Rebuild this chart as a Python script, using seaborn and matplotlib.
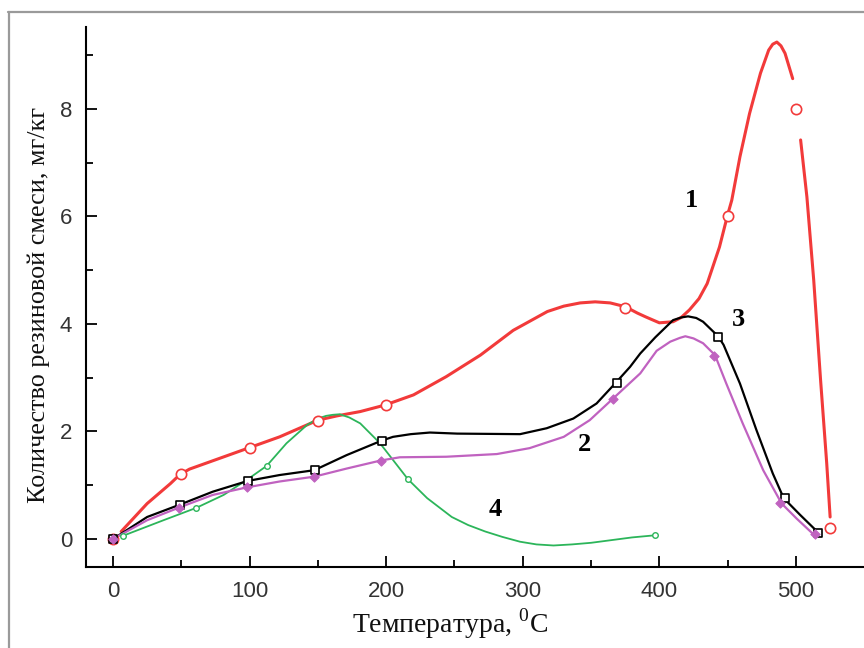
import matplotlib
matplotlib.use("Agg")
import matplotlib.pyplot as plt
import seaborn as sns
import pandas as pd
from matplotlib.lines import Line2D
from matplotlib.ticker import FixedLocator

# ---- data ----
# curve 1 (red)
c1_x = [6, 25, 42, 49, 56, 78, 100, 122, 150, 164, 181, 199, 220, 244, 269, 293, 318, 330, 342, 353, 364, 375,
        384, 390, 400, 410, 416, 422, 429, 435, 444, 450, 453, 459, 466, 474, 480, 483, 486, 489, 492, 497.6,
        503.4, 508, 513, 518, 522.5, 525]
c1_y = [0.14, 0.66, 1.03, 1.20, 1.30, 1.50, 1.70, 1.90, 2.21, 2.29, 2.37, 2.49, 2.68, 3.02, 3.42, 3.88, 4.23, 4.33, 4.39, 4.41, 4.39, 4.32,
        4.20, 4.13, 4.02, 4.04, 4.12, 4.26, 4.47, 4.75, 5.43, 6.03, 6.30, 7.11, 7.91, 8.66, 9.09, 9.20, 9.24, 9.17, 9.03, 8.56,
        7.42, 6.36, 4.81, 2.96, 1.41, 0.41]
c1_seg = [0] * 42 + [1] * 6
m1_x = [0, 50, 100, 150, 200, 375, 450, 500, 525]
m1_y = [0, 1.2, 1.7, 2.2, 2.5, 4.3, 6.0, 8.0, 0.2]

# curve 3 (black)
c3_x = [0, 25, 49, 73, 98.6, 122, 147.4, 171, 196.7, 205, 218, 232, 252, 298, 317.5, 337, 354, 367.5, 378.5,
        386, 397, 410, 416, 421, 427, 432, 443, 447, 459, 471, 483, 491, 503, 516.3]
c3_y = [0, 0.41, 0.64, 0.88, 1.08, 1.19, 1.28, 1.56, 1.83, 1.90, 1.95, 1.98, 1.96, 1.95, 2.06, 2.24, 2.52, 2.89, 3.20,
        3.45, 3.75, 4.07, 4.12, 4.14, 4.11, 4.04, 3.77, 3.61, 2.89, 2.03, 1.22, 0.76, 0.45, 0.12]
m3_x = [0, 49, 99, 148, 197, 369, 443, 492, 516]
m3_y = [0, 0.64, 1.08, 1.28, 1.83, 2.90, 3.76, 0.76, 0.11]

# curve 2 (magenta)
c2_x = [0, 25, 47.8, 73, 97.9, 122, 147.4, 171, 196, 210, 244, 281, 305, 330, 349, 366, 386, 398, 408, 415, 419, 425,
        432, 440.7, 449, 461, 476, 489.5, 500.5, 512.7]
c2_y = [0, 0.35, 0.58, 0.82, 0.96, 1.07, 1.16, 1.31, 1.46, 1.52, 1.53, 1.58, 1.69, 1.90, 2.21, 2.61, 3.08, 3.50, 3.67, 3.74, 3.77, 3.73,
        3.64, 3.42, 2.89, 2.15, 1.28, 0.66, 0.38, 0.09]
m2_x = [0, 48, 98, 147, 196, 366, 440, 488, 514]
m2_y = [0, 0.58, 0.96, 1.16, 1.46, 2.61, 3.40, 0.67, 0.09]

# curve 4 (green)
c4_x = [7.3, 37, 61, 81, 98, 112.5, 127, 142, 150, 156, 161, 166, 173, 181, 195.5, 216, 230, 248, 260, 272.5, 285, 298,
        310, 322.5, 336, 350, 380, 397]
c4_y = [0.06, 0.35, 0.58, 0.82, 1.10, 1.36, 1.78, 2.12, 2.24, 2.29, 2.31, 2.32, 2.26, 2.15, 1.78, 1.11, 0.76, 0.41, 0.26,
        0.14, 0.04, -0.05, -0.10, -0.12, -0.10, -0.07, 0.03, 0.07]
m4_x = [7, 61, 113, 216, 397]
m4_y = [0.06, 0.58, 1.36, 1.11, 0.07]

curve_labels = ["1", "2", "3", "4"]
label_x = [423.6, 345.5, 457.8, 280.2]
label_y = [6.30, 1.75, 4.08, 0.54]

x_ticks = [0, 100, 200, 300, 400, 500]
y_ticks = [0, 2, 4, 6, 8]
x_title = "Температура, $^{\\mathrm{0}}$C"
y_title = "Количество резиновой смеси, мг/кг"

RED = "#f23a3a"
BLACK = "#000000"
MAG = "#c062c0"
GREEN = "#2cb55a"

sns.set_theme(style="ticks")
plt.rcParams["font.family"] = ["Liberation Serif", "DejaVu Serif"]
plt.rcParams["mathtext.fontset"] = "custom"
plt.rcParams["mathtext.rm"] = "Liberation Serif"

fig = plt.figure(figsize=(8.64, 6.48), dpi=100)
fig.patch.set_facecolor("white")
ax = fig.add_axes([86 / 864, (648 - 567) / 648, (864 - 86) / 864, (567 - 27) / 648])
ax.set_facecolor("white")

d1 = pd.DataFrame({"x": c1_x, "y": c1_y, "seg": c1_seg})
sns.lineplot(data=d1, x="x", y="y", units="seg", estimator=None, sort=False, color=RED, lw=2.2, ax=ax, zorder=2)
sns.lineplot(x=c4_x, y=c4_y, sort=False, estimator=None, color=GREEN, lw=1.3, ax=ax, zorder=2)
sns.lineplot(x=c3_x, y=c3_y, sort=False, estimator=None, color=BLACK, lw=1.6, ax=ax, zorder=3)
sns.lineplot(x=c2_x, y=c2_y, sort=False, estimator=None, color=MAG, lw=1.6, ax=ax, zorder=3)

sns.scatterplot(x=m1_x, y=m1_y, marker="o", s=55, color="white", edgecolor=RED, linewidth=1.2, ax=ax, zorder=4)
sns.scatterplot(x=m4_x, y=m4_y, marker="o", s=16, color="white", edgecolor=GREEN, linewidth=1.0, ax=ax, zorder=4)
sns.scatterplot(x=m3_x, y=m3_y, marker="s", s=28, color="white", edgecolor=BLACK, linewidth=1.2, ax=ax, zorder=5)
sns.scatterplot(x=m2_x, y=m2_y, marker="D", s=22, color=MAG, edgecolor=MAG, linewidth=0.8, ax=ax, zorder=6)

for t, lx, ly in zip(curve_labels, label_x, label_y):
    ax.text(lx, ly, t, fontsize=19, fontweight="bold", ha="center", va="center", color="black",
            family=["Liberation Serif", "DejaVu Serif"], zorder=7)

ax.set_xlim(-19.77, 549.8)
ax.set_ylim(-0.52, 9.52)
ax.xaxis.set_major_locator(FixedLocator(x_ticks))
ax.xaxis.set_minor_locator(FixedLocator([50, 150, 250, 350, 450]))
ax.yaxis.set_major_locator(FixedLocator(y_ticks))
ax.yaxis.set_minor_locator(FixedLocator([1, 3, 5, 7, 9]))
ax.set_xticklabels([str(v) for v in x_ticks])
ax.set_yticklabels([str(v) for v in y_ticks])

for s in ["top", "right"]:
    ax.spines[s].set_visible(False)
for s in ["left", "bottom"]:
    ax.spines[s].set_linewidth(1.5)
    ax.spines[s].set_color("black")

ax.tick_params(which="major", direction="in", length=8, width=1.3, color="black", pad=10)
ax.tick_params(which="minor", direction="in", length=5, width=1.3, color="black")
for lab in ax.get_xticklabels() + ax.get_yticklabels():
    lab.set_fontfamily(["Liberation Sans Narrow", "Liberation Sans", "DejaVu Sans"])
    lab.set_fontsize(16)
    lab.set_color("#333333")

ax.set_xlabel("")
ax.set_ylabel("")
fig.text(450 / 864, 1 - 624 / 648, x_title, ha="center", va="center", fontsize=20, color="#111111")
fig.text(39 / 864, 1 - 305 / 648, y_title, ha="center", va="center", rotation=90, fontsize=18.8, color="#111111")

# outer image frame (gray)
fig.add_artist(Line2D([8 / 864, 1], [1 - 12 / 648, 1 - 12 / 648], color="#9a9a9a", lw=1.6, transform=fig.transFigure))
fig.add_artist(Line2D([9 / 864, 9 / 864], [0, 1 - 12 / 648], color="#9a9a9a", lw=1.6, transform=fig.transFigure))

fig.savefig("out.png", dpi=100)
